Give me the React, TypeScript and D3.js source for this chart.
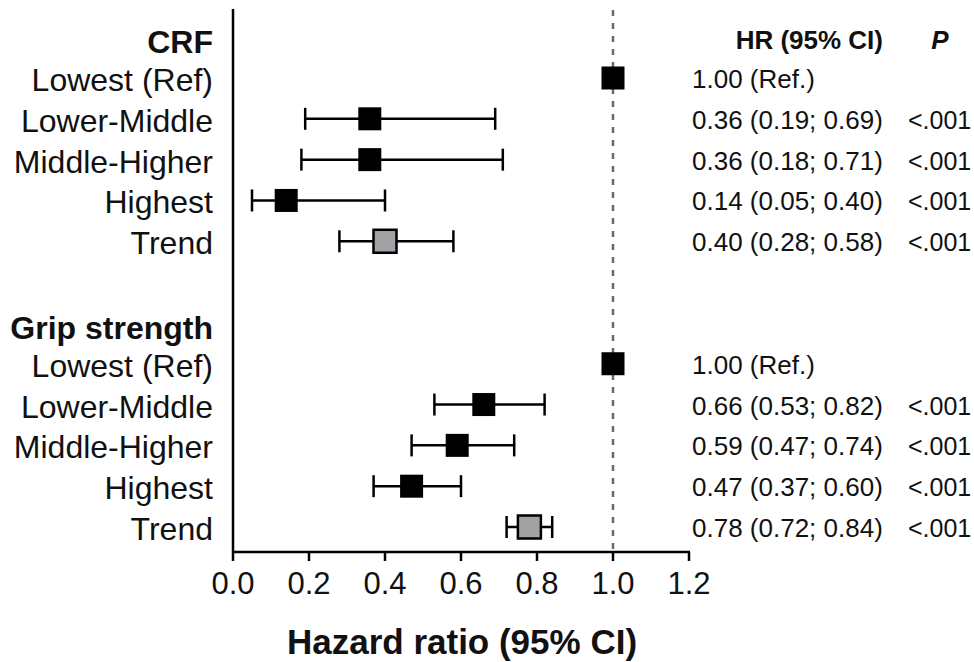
import React from "react";
import * as d3 from "d3";

const groupNames = ["CRF", "Grip strength"];
const rowLabels = ["Lowest (Ref)", "Lower-Middle", "Middle-Higher", "Highest", "Trend"];
const crfHR = [1.0, 0.36, 0.36, 0.14, 0.4];
const crfLo = [null, 0.19, 0.18, 0.05, 0.28];
const crfHi = [null, 0.69, 0.71, 0.4, 0.58];
const crfP = ["", "<.001", "<.001", "<.001", "<.001"];
const gripHR = [1.0, 0.66, 0.59, 0.47, 0.78];
const gripLo = [null, 0.53, 0.47, 0.37, 0.72];
const gripHi = [null, 0.82, 0.74, 0.6, 0.84];
const gripP = ["", "<.001", "<.001", "<.001", "<.001"];
const xTicks = [0, 0.2, 0.4, 0.6, 0.8, 1.0, 1.2];

const W = 974;
const H = 662;
const FONT = "'Liberation Sans', Arial, Helvetica, sans-serif";

type Row = { label: string; hr: number; lo: number | null; hi: number | null; p: string; trend: boolean; idx: number };

export default function App() {
  const x = d3.scaleLinear().domain([0, 1.2]).range([233, 689]);
  const y = d3.scaleLinear().domain([0, 11]).range([78, 527]);
  const axisY = 552;

  const groups = [
    { name: groupNames[0], hr: crfHR, lo: crfLo, hi: crfHi, p: crfP, start: 0 },
    { name: groupNames[1], hr: gripHR, lo: gripLo, hi: gripHi, p: gripP, start: 7 },
  ];

  const rows: Row[] = [];
  groups.forEach((g) => {
    rowLabels.forEach((lab, i) => {
      rows.push({ label: lab, hr: g.hr[i], lo: g.lo[i], hi: g.hi[i], p: g.p[i], trend: lab === "Trend", idx: g.start + i });
    });
  });

  const fmt = d3.format(".2f");
  const hrText = (r: Row) => (r.lo == null ? `${fmt(r.hr)} (Ref.)` : `${fmt(r.hr)} (${fmt(r.lo)}; ${fmt(r.hi as number)})`);

  const sq = 23;
  const capH = 22;

  return (
    <svg width={W} height={H} style={{ position: "absolute", left: 0, top: 0, background: "#fff" }} fontFamily={FONT}>
      <rect x={0} y={0} width={W} height={H} fill="#fff" />
      {/* reference line */}
      <line x1={x(1)} x2={x(1)} y1={10} y2={axisY} stroke="#6a6a6a" strokeWidth={2.5} strokeDasharray="6,7" />
      {/* y axis line */}
      <line x1={x(0)} x2={x(0)} y1={9} y2={axisY} stroke="#000" strokeWidth={2.5} />
      {/* x axis */}
      <line x1={x(0) - 1} x2={x(1.2) + 1} y1={axisY} y2={axisY} stroke="#000" strokeWidth={2.5} />
      {xTicks.map((t) => (
        <g key={t}>
          <line x1={x(t)} x2={x(t)} y1={axisY} y2={axisY + 9} stroke="#000" strokeWidth={2.5} />
          <text x={x(t)} y={axisY + 42} textAnchor="middle" fontSize={31} fill="#111">
            {t.toFixed(1)}
          </text>
        </g>
      ))}
      <text x={(x(0) + x(1.2)) / 2 + 1} y={654} textAnchor="middle" fontSize={35} fontWeight="bold" fill="#111">
        Hazard ratio (95% CI)
      </text>

      {/* group headers */}
      {groups.map((g) => (
        <text key={g.name} x={213} y={y(g.start - 1) + 16} textAnchor="end" fontSize={32} fontWeight="bold" fill="#111">
          {g.name}
        </text>
      ))}

      {/* column headers */}
      <text x={883} y={49} textAnchor="end" fontSize={26} fontWeight="bold" fill="#111">
        HR (95% CI)
      </text>
      <text x={940} y={49} textAnchor="middle" fontSize={26} fontWeight="bold" fontStyle="italic" fill="#111">
        P
      </text>

      {rows.map((r, i) => {
        const cy = y(r.idx);
        return (
          <g key={i}>
            <text x={213} y={cy + 13} textAnchor="end" fontSize={32} fill="#111">
              {r.label}
            </text>
            {r.lo != null && r.hi != null && (
              <g stroke="#000" strokeWidth={2.5}>
                <line x1={x(r.lo)} x2={x(r.hi)} y1={cy} y2={cy} />
                <line x1={x(r.lo)} x2={x(r.lo)} y1={cy - capH / 2} y2={cy + capH / 2} />
                <line x1={x(r.hi)} x2={x(r.hi)} y1={cy - capH / 2} y2={cy + capH / 2} />
              </g>
            )}
            {r.trend ? (
              <rect x={x(r.hr) - 11.5} y={cy - 11.5} width={sq} height={sq} fill="#a2a2a6" stroke="#000" strokeWidth={2.5} />
            ) : (
              <rect x={x(r.hr) - sq / 2} y={cy - sq / 2} width={sq} height={sq} fill="#000" />
            )}
            <text x={692} y={cy + 10} fontSize={26} fill="#111">
              {hrText(r)}
            </text>
            {r.p && (
              <text x={908} y={cy + 10} fontSize={25} fill="#111">
                {r.p}
              </text>
            )}
          </g>
        );
      })}
    </svg>
  );
}
